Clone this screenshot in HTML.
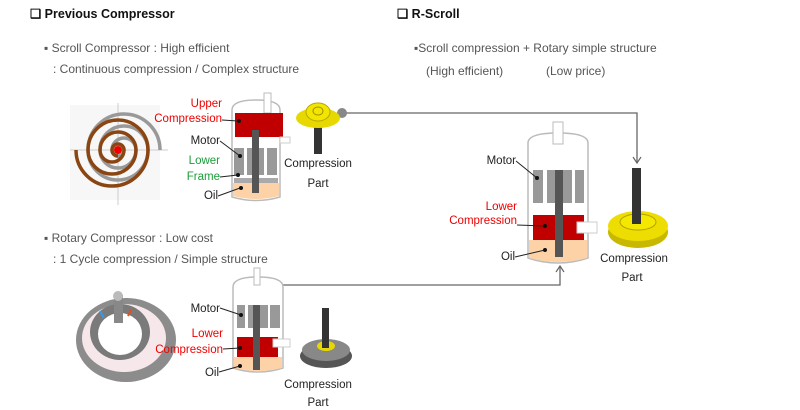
<!DOCTYPE html>
<html><head><meta charset="utf-8"><style>
body{margin:0;width:800px;height:410px;background:#fff;overflow:hidden}
svg{display:block}
text{font-family:"Liberation Sans",sans-serif}
</style></head><body>
<svg width="800" height="410" viewBox="0 0 800 410">
<!-- headings -->
<text x="30" y="18" font-size="12.5" font-weight="bold" fill="#111">❑ Previous Compressor</text>
<text x="397" y="18" font-size="12.5" font-weight="bold" fill="#111">❑ R-Scroll</text>
<g font-size="12" fill="#555">
<text x="44" y="52">▪ Scroll Compressor : High efficient</text>
<text x="53" y="73">: Continuous compression / Complex structure</text>
<text x="44" y="242">▪ Rotary Compressor : Low cost</text>
<text x="53" y="263">: 1 Cycle compression / Simple structure</text>
<text x="414" y="52">▪Scroll compression + Rotary simple structure</text>
<text x="426" y="75">(High efficient)</text>
<text x="546" y="75">(Low price)</text>
</g>
<!-- connectors -->
<polyline points="342,113 637,113 637,163" fill="none" stroke="#666" stroke-width="1.3"/>
<path d="M633,157 L637,163 L641,157" fill="none" stroke="#666" stroke-width="1.2"/>
<circle cx="342" cy="113" r="5" fill="#888"/>
<polyline points="277,285 560,285 560,266" fill="none" stroke="#666" stroke-width="1.3"/>
<path d="M556,272 L560,266 L564,272" fill="none" stroke="#666" stroke-width="1.2"/>
<circle cx="277" cy="285" r="5" fill="#888"/>

<!-- scroll illustration -->
<rect x="70" y="105" width="90" height="95" fill="#f7f7f7"/>
<line x1="70" y1="150" x2="168" y2="150" stroke="#ccc"/>
<line x1="118" y1="103" x2="118" y2="205" stroke="#ccc"/>
<path d="M118,150 m0,-6 a6,6 0 1 1 -6,6 a12,12 0 0 1 24,0 a18,18 0 0 1 -36,0 a24,24 0 0 1 48,0 a30,30 0 0 1 -60,0 a36,36 0 0 1 72,0" fill="none" stroke="#999" stroke-width="3.5"/>
<path d="M118,150 m0,6 a6,6 0 1 1 6,-6 a12,12 0 0 1 -24,0 a18,18 0 0 1 36,0 a24,24 0 0 1 -48,0 a30,30 0 0 1 60,0 a36,36 0 0 1 -72,0" fill="none" stroke="#8b4513" stroke-width="3.5"/>
<circle cx="118" cy="150" r="4" fill="#e00"/>

<!-- top compressor -->
<path d="M232,197 L232,110 Q232,100 256,100 Q280,100 280,110 L280,197 Q256,204 232,197Z" fill="#fff" stroke="#bbb" stroke-width="1.5"/>
<path d="M233,183 L279,183 L279,196 Q256,202 233,196Z" fill="#fdd2a6"/>
<rect x="264" y="93" width="7" height="20" fill="#fff" stroke="#bbb"/>
<rect x="235" y="113" width="48" height="24" fill="#c00000"/>
<rect x="280" y="137" width="10" height="6" fill="#fff" stroke="#ccc"/>
<rect x="234" y="148" width="10" height="27" fill="#999"/>
<rect x="247" y="148" width="17" height="27" fill="#999"/>
<rect x="267" y="148" width="10" height="27" fill="#999"/>
<rect x="234" y="178" width="44" height="5" fill="#aaa"/>
<rect x="252" y="130" width="7" height="63" fill="#555"/>
<g font-size="11.5" text-anchor="end">
<text x="222" y="107" fill="#e00">Upper</text>
<text x="222" y="122" fill="#e00">Compression</text>
<text x="220" y="144" fill="#222">Motor</text>
<text x="220" y="164" fill="#1a9e3a">Lower</text>
<text x="220" y="180" fill="#1a9e3a">Frame</text>
<text x="218" y="199" fill="#222">Oil</text>
</g>
<g stroke="#222" stroke-width="1"><line x1="222" y1="120" x2="238" y2="121"/><line x1="220" y1="141" x2="240" y2="156"/><line x1="220" y1="177" x2="238" y2="175"/><line x1="218" y1="196" x2="240" y2="188"/></g>
<g fill="#111"><circle cx="239" cy="121" r="2"/><circle cx="240" cy="156" r="2"/><circle cx="238" cy="175" r="2"/><circle cx="241" cy="188" r="2"/></g>
<!-- top compression part -->
<rect x="314" y="122" width="8" height="32" fill="#333"/>
<ellipse cx="318" cy="118" rx="22" ry="10" fill="#e6d800"/>
<ellipse cx="318" cy="112" rx="12" ry="9" fill="#f2e600" stroke="#b8a800"/>
<ellipse cx="318" cy="111" rx="5" ry="4" fill="none" stroke="#a09000"/>
<g font-size="11.5" fill="#222" text-anchor="middle"><text x="318" y="167">Compression</text><text x="318" y="187">Part</text></g>

<!-- rotary illustration -->
<ellipse cx="126" cy="340" rx="50" ry="42" fill="#8c8c8c"/>
<ellipse cx="124" cy="338" rx="42" ry="34" fill="#f6e8ea"/>
<ellipse cx="120" cy="332" rx="30" ry="28" fill="#7a7a7a"/>
<ellipse cx="120" cy="334" rx="22" ry="21" fill="#fff"/>
<rect x="114" y="295" width="9" height="28" fill="#888"/>
<circle cx="118" cy="296" r="5" fill="#bbb"/>
<line x1="100" y1="311" x2="104" y2="318" stroke="#3399ee" stroke-width="2"/>
<line x1="128" y1="316" x2="131" y2="310" stroke="#e05020" stroke-width="2"/>

<!-- bottom compressor -->
<path d="M233,368 L233,287 Q233,277 258,277 Q283,277 283,287 L283,368 Q258,376 233,368Z" fill="#fff" stroke="#bbb" stroke-width="1.5"/>
<path d="M234,357 L282,357 L282,368 Q258,374 234,368Z" fill="#fdd2a6"/>
<rect x="254" y="268" width="6" height="17" fill="#fff" stroke="#bbb"/>
<rect x="237" y="305" width="8" height="23" fill="#999"/>
<rect x="248" y="305" width="20" height="23" fill="#999"/>
<rect x="270" y="305" width="10" height="23" fill="#999"/>
<rect x="237" y="337" width="41" height="20" fill="#c00000"/>
<rect x="273" y="339" width="17" height="8" fill="#fff" stroke="#ccc"/>
<rect x="253" y="305" width="7" height="65" fill="#555"/>
<g font-size="11.5" text-anchor="end">
<text x="220" y="312" fill="#222">Motor</text>
<text x="223" y="337" fill="#e00">Lower</text>
<text x="223" y="353" fill="#e00">Compression</text>
<text x="219" y="376" fill="#222">Oil</text>
</g>
<g stroke="#222"><line x1="220" y1="308" x2="241" y2="315"/><line x1="223" y1="349" x2="240" y2="348"/><line x1="219" y1="372" x2="240" y2="366"/></g>
<g fill="#111"><circle cx="241" cy="315" r="2"/><circle cx="240" cy="348" r="2"/><circle cx="240" cy="366" r="2"/></g>
<!-- bottom compression part -->
<ellipse cx="326" cy="356" rx="26" ry="12" fill="#555"/>
<ellipse cx="326" cy="350" rx="24" ry="11" fill="#888"/>
<ellipse cx="326" cy="346" rx="9" ry="5" fill="#e6d800"/>
<rect x="322" y="308" width="7" height="40" fill="#333"/>
<g font-size="11.5" fill="#222" text-anchor="middle"><text x="318" y="388">Compression</text><text x="318" y="406">Part</text></g>

<!-- right compressor -->
<path d="M528,258 L528,143 Q528,133 558,133 Q588,133 588,143 L588,258 Q558,268 528,258Z" fill="#fff" stroke="#bbb" stroke-width="1.5"/>
<path d="M529,240 L587,240 L587,258 Q558,266 529,258Z" fill="#fdd2a6"/>
<rect x="553" y="122" width="10" height="22" fill="#fff" stroke="#bbb"/>
<rect x="533" y="170" width="10" height="33" fill="#999"/>
<rect x="547" y="170" width="25" height="33" fill="#999"/>
<rect x="575" y="170" width="9" height="33" fill="#999"/>
<rect x="533" y="215" width="51" height="25" fill="#c00000"/>
<rect x="577" y="222" width="20" height="11" fill="#fff" stroke="#ccc"/>
<rect x="555" y="170" width="8" height="87" fill="#555"/>
<g font-size="11.5" text-anchor="end">
<text x="516" y="164" fill="#222">Motor</text>
<text x="517" y="210" fill="#e00">Lower</text>
<text x="517" y="224" fill="#e00">Compression</text>
<text x="515" y="260" fill="#222">Oil</text>
</g>
<g stroke="#222"><line x1="516" y1="161" x2="537" y2="178"/><line x1="517" y1="225" x2="545" y2="226"/><line x1="515" y1="257" x2="545" y2="250"/></g>
<g fill="#111"><circle cx="537" cy="178" r="2"/><circle cx="545" cy="226" r="2"/><circle cx="545" cy="250" r="2"/></g>
<!-- right compression part -->
<ellipse cx="638" cy="232" rx="30" ry="16" fill="#c8b800"/>
<ellipse cx="638" cy="226" rx="30" ry="15" fill="#eedd00"/>
<ellipse cx="638" cy="222" rx="18" ry="8" fill="#f4e800" stroke="#b0a000"/>
<rect x="632" y="168" width="9" height="56" fill="#333"/>
<g font-size="11.5" fill="#222" text-anchor="middle"><text x="634" y="262">Compression</text><text x="632" y="281">Part</text></g>
</svg>
</body></html>
